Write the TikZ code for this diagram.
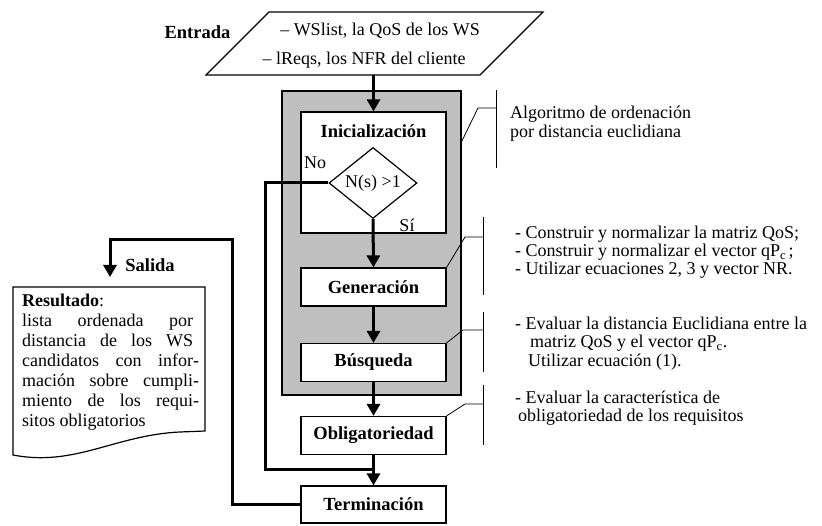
\documentclass[tikz,border=0pt]{standalone}
\usepackage{fontspec}
\setmainfont{Liberation Serif}
\usetikzlibrary{arrows.meta,shapes.geometric}
\newcommand{\tam}{\fontsize{18}{20}\selectfont}
\newcommand{\tamb}{\fontsize{18.5}{20}\selectfont\bfseries}
\newcommand{\jline}[1]{\makebox[171pt][s]{#1}}

\begin{document}
\begin{tikzpicture}[x=10pt, y=10pt]
	%%%%% START %%%%%
	\tikzset{
		paso/.style={draw, fill=white, line width=1.2pt, minimum width=145pt, minimum height=38pt, inner sep=0pt, font=\tamb},
		flujo/.style={line width=3pt, -{Triangle[width=13pt, length=12pt]}},
		nota/.style={line width=0.8pt},
		texto/.style={inner sep=0pt, align=left, anchor=west, font=\tam}
	}
	\useasboundingbox (0, 0) rectangle (82.2, 52.5);
	
	% entrada
	\draw[line width=1.2pt] (20.6, 45.0) -- (26.9, 51.3) -- (54.3, 51.3) -- (48.0, 45.0) -- cycle;
	\coordinate (entrada) at (37.5, 45.0);
	\node[texto, anchor=center] (in-a) at (38.0, 49.4) {– WSlist, la QoS de los WS};
	\node[texto, anchor=center] (in-b) at (36.4, 46.5) {– lReqs, los NFR del cliente};
	\node[font=\tamb] (ent-lbl) at (19.75, 49.3) {Entrada};
	
	% caja del algoritmo
	\node[draw, fill=black!25, line width=1.5pt, minimum width=179pt, minimum height=304pt] (alg) at (37.15, 28.2) {};
	\node[paso, minimum height=121pt] (ini) at (37.35, 35.25) {};
	\node[font=\tamb] (ini-lbl) at (37.35, 39.4) {Inicialización};
	\node[draw, diamond, aspect=1.24, fill=white, line width=1.2pt, minimum width=88pt, minimum height=71pt, inner sep=0pt, font=\tam] (cond) at (37.3, 34.2) {N(s) >1};
	\node[font=\tam] (no) at (31.5, 36.2) {No};
	\node[font=\tam] (si) at (40.7, 30.0) {Sí};
	\node[paso] (gen) at (37.35, 23.8) {Generación};
	\node[paso] (bus) at (37.35, 16.25) {Búsqueda};
	
	\node[paso] (obl) at (37.35, 8.95) {Obligatoriedad};
	\node[paso, minimum height=37pt] (term) at (37.35, 2.05) {Terminación};
	
	% flujo principal
	\draw[flujo] (entrada -| ini.north) -- (ini.north);
	\draw[flujo] (cond.south) -- (gen.north);
	\draw[flujo] (gen) -- (bus);
	\draw[flujo] (bus) -- (obl);
	\draw[flujo] (obl) -- (term);
	
	% rama No
	\coordinate (no-a) at (26.5, 34.2);
	\coordinate (no-b) at (26.5, 5.6);
	\draw[line width=3pt] (cond.west) -- (no-a) -- (no-b) -- (no-b -| obl.south);
	
	% salida
	\coordinate (sal-a) at (23.2, 28.5);
	\coordinate (sal-b) at (11.0, 24.8);
	\draw[flujo] (term.west) -| (sal-a) -| (sal-b);
	\node[font=\tamb] (sal-lbl) at (15.0, 26.0) {Salida};
	
	\draw[line width=1.2pt] (1.3, 23.8) -- (20.5, 23.8) -- (20.5, 9.4) -- (18.0, 9.3) .. controls (11.5, 9.0) and (7.5, 5.8) .. (1.3, 7.0) -- cycle;
	\node[texto, anchor=north west] (res) at (2.2, 23.1) {\textbf{Resultado}:\\\jline{lista ordenada por}\\\jline{distancia de los WS}\\\jline{candidatos con infor}\rlap{-}\\\jline{mación sobre cumpli}\rlap{-}\\\jline{miento de los requi}\rlap{-}\\sitos obligatorios};
	
	% notas
	\coordinate (n1-a) at (47.8, 41.7);
	\coordinate (n1-b) at (49.6, 41.7);
	\draw[nota] ([yshift=-51pt]alg.north east) -- (n1-a) -- (n1-b);
	\draw[nota] (49.6, 43.5) -- (49.6, 35.7);
	\node[texto, font=\fontsize{18}{19}\selectfont] (t1) at (51.0, 40.15) {Algoritmo de ordenación\\por distancia euclidiana};
	
	\coordinate (n2-a) at (46.5, 28.8);
	\coordinate (n2-b) at (48.3, 28.8);
	\draw[nota] (gen.north east) -- (n2-a) -- (n2-b);
	\draw[nota] (48.3, 30.8) -- (48.3, 23.0);
	\node[texto, font=\fontsize{18}{18}\selectfont] (t2) at (51.5, 27.25) {- Construir y normalizar la matriz QoS;\\- Construir y normalizar el vector qP\textsubscript{c}\kern2.5pt;\\- Utilizar ecuaciones 2, 3 y vector NR.};
	
	\coordinate (n3-a) at (46.3, 19.5);
	\coordinate (n3-b) at (48.3, 19.5);
	\draw[nota] (bus.north east) -- (n3-a) -- (n3-b);
	\draw[nota] (48.3, 21.3) -- (48.3, 15.3);
	\node[texto, font=\fontsize{18}{18.5}\selectfont] (t3) at (51.5, 18.15) {- Evaluar la distancia Euclidiana entre la\\\hspace*{15pt}matriz QoS y el vector qP\textsubscript{c}.\\\hspace*{13pt}Utilizar ecuación (1).};
	
	\coordinate (n4-a) at (46.5, 12.1);
	\coordinate (n4-b) at (48.3, 12.1);
	\draw[nota] (obl.north east) -- (n4-a) -- (n4-b);
	\draw[nota] (48.3, 14.0) -- (48.3, 8.0);
	\node[texto, font=\fontsize{18}{18}\selectfont] (t4) at (51.5, 11.7) {- Evaluar la característica de\\\hspace*{3pt}obligatoriedad de los requisitos};
	
	%%%%% END %%%%%
\end{tikzpicture}
\end{document}
